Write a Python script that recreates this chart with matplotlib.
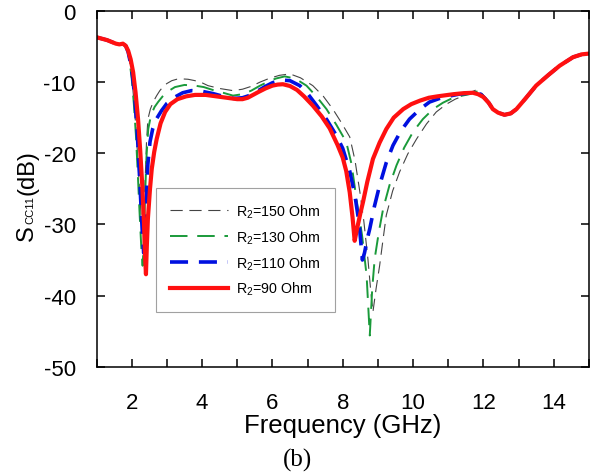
import matplotlib
matplotlib.use('Agg')
import matplotlib.pyplot as plt

plt.rcParams['font.family'] = ['Liberation Sans', 'DejaVu Sans']
plt.rcParams['mathtext.fontset'] = 'custom'
plt.rcParams['mathtext.rm'] = 'Liberation Sans'
plt.rcParams['axes.unicode_minus'] = False

# (frequency GHz, S_CC11 dB)
pts_150 = [(1.0, -3.7), (1.15, -3.9), (1.3, -4.1), (1.45, -4.4), (1.55, -4.6), (1.65, -4.7), (1.75, -4.6),
           (1.83, -4.9), (1.9, -5.9), (1.95, -7.4), (2.0, -9.3), (2.06, -12.5), (2.12, -16.5), (2.17, -20.5),
           (2.22, -25.0), (2.27, -29.0), (2.31, -31.5), (2.34, -30.0), (2.38, -24.0), (2.42, -18.5), (2.46, -15.2),
           (2.53, -13.8), (2.62, -12.7), (2.71, -11.9), (2.8, -11.2), (2.9, -10.6), (3.0, -10.2), (3.14, -9.8),
           (3.28, -9.6), (3.42, -9.55), (3.6, -9.6), (3.8, -9.8), (4.0, -10.1), (4.17, -10.5), (4.5, -10.9),
           (4.88, -11.2), (5.15, -11.0), (5.4, -10.6), (5.65, -10.0), (5.9, -9.5), (6.2, -9.05), (6.5, -8.85),
           (6.8, -9.4), (7.15, -10.5), (7.45, -12.0), (7.72, -13.8), (7.95, -15.6), (8.2, -17.7), (8.35, -21.0),
           (8.49, -25.5), (8.6, -29.5), (8.72, -35.0), (8.8, -39.5), (8.86, -42.3), (8.95, -39.0), (9.05, -35.8),
           (9.15, -32.0), (9.24, -28.7), (9.42, -25.3), (9.62, -22.6), (9.85, -20.1), (10.1, -18.0), (10.38, -15.9),
           (10.66, -14.2), (10.95, -13.1), (11.2, -12.4), (11.45, -11.9), (11.65, -11.4), (11.8, -11.1),
           (11.9, -11.3), (12.0, -11.8), (12.1, -12.6), (12.27, -13.8), (12.42, -14.3), (12.6, -14.6),
           (12.78, -14.4), (12.94, -13.8), (13.2, -12.3), (13.5, -10.5), (13.85, -9.0), (14.17, -7.7),
           (14.55, -6.5), (14.8, -6.1), (15.0, -6.0)]

pts_130 = [(1.0, -3.7), (1.15, -3.9), (1.3, -4.1), (1.45, -4.4), (1.55, -4.6), (1.65, -4.7), (1.75, -4.6),
           (1.83, -4.9), (1.9, -5.9), (1.95, -7.5), (2.0, -9.5), (2.06, -13.0), (2.12, -17.5), (2.17, -22.5),
           (2.22, -28.0), (2.27, -33.0), (2.31, -35.8), (2.34, -33.0), (2.38, -26.0), (2.42, -20.5), (2.47, -16.6),
           (2.55, -14.6), (2.65, -13.5), (2.75, -12.8), (2.88, -12.0), (3.0, -11.4), (3.23, -10.7), (3.5, -10.4),
           (3.8, -10.5), (4.05, -10.7), (4.3, -11.1), (4.6, -11.5), (4.88, -11.9), (5.15, -11.7), (5.4, -11.2),
           (5.65, -10.5), (5.9, -9.9), (6.1, -9.5), (6.35, -9.2), (6.65, -9.5), (6.97, -10.5), (7.25, -12.0),
           (7.54, -13.8), (7.82, -16.0), (8.1, -18.4), (8.25, -21.5), (8.39, -26.4), (8.55, -31.5), (8.68, -37.2),
           (8.77, -45.6), (8.84, -39.0), (8.91, -34.8), (9.03, -31.0), (9.15, -27.8), (9.33, -24.5), (9.53, -21.7),
           (9.75, -19.2), (10.0, -17.0), (10.28, -15.2), (10.57, -13.8), (10.85, -12.9), (11.1, -12.3),
           (11.4, -11.9), (11.6, -11.7), (11.75, -11.4), (11.85, -11.3), (11.95, -11.6), (12.05, -12.2),
           (12.15, -12.9), (12.27, -13.8), (12.42, -14.3), (12.6, -14.6), (12.78, -14.4), (12.94, -13.8),
           (13.2, -12.3), (13.5, -10.5), (13.85, -9.0), (14.17, -7.7), (14.55, -6.5), (14.8, -6.1), (15.0, -6.0)]

pts_110 = [(1.0, -3.7), (1.15, -3.9), (1.3, -4.1), (1.45, -4.4), (1.55, -4.6), (1.65, -4.7), (1.75, -4.6),
           (1.83, -4.9), (1.9, -5.8), (1.96, -7.2), (2.02, -9.0), (2.09, -12.3), (2.15, -16.5), (2.2, -21.0),
           (2.25, -26.0), (2.3, -31.0), (2.34, -34.0), (2.37, -33.0), (2.41, -27.0), (2.46, -21.5), (2.52, -18.4),
           (2.6, -16.5), (2.7, -15.2), (2.85, -14.0), (3.0, -13.0), (3.23, -12.1), (3.45, -11.5), (3.7, -11.2),
           (4.0, -11.3), (4.3, -11.6), (4.6, -12.0), (4.9, -12.3), (5.15, -12.2), (5.4, -11.8), (5.6, -11.2),
           (5.8, -10.6), (6.0, -10.1), (6.25, -9.7), (6.5, -9.8), (6.78, -10.5), (7.0, -11.6), (7.26, -13.3),
           (7.55, -15.3), (7.82, -17.5), (8.0, -19.3), (8.2, -22.5), (8.35, -26.0), (8.47, -30.0), (8.56, -35.0),
           (8.62, -34.0), (8.7, -32.0), (8.77, -30.6), (8.9, -27.5), (9.05, -24.5), (9.24, -21.3), (9.43, -18.9),
           (9.65, -16.9), (9.9, -15.2), (10.2, -13.8), (10.47, -12.8), (10.75, -12.3), (11.0, -12.0),
           (11.3, -11.7), (11.6, -11.55), (11.8, -11.5), (11.92, -11.7), (12.05, -12.3), (12.15, -12.9),
           (12.27, -13.8), (12.42, -14.3), (12.6, -14.6), (12.78, -14.4), (12.94, -13.8), (13.2, -12.3),
           (13.5, -10.5), (13.85, -9.0), (14.17, -7.7), (14.55, -6.5), (14.8, -6.1), (15.0, -6.0)]

pts_90 = [(1.0, -3.7), (1.15, -3.9), (1.3, -4.1), (1.45, -4.4), (1.55, -4.6), (1.65, -4.7), (1.75, -4.6),
          (1.83, -4.9), (1.9, -5.6), (1.97, -6.8), (2.04, -8.6), (2.11, -11.5), (2.18, -15.2), (2.24, -19.5),
          (2.3, -24.5), (2.35, -30.0), (2.38, -34.5), (2.405, -37.0), (2.43, -33.0), (2.46, -29.2), (2.52, -25.0),
          (2.57, -22.2), (2.64, -19.8), (2.71, -18.0), (2.82, -15.8), (2.95, -14.2), (3.1, -13.1), (3.3, -12.4),
          (3.55, -12.0), (3.8, -11.8), (4.1, -11.8), (4.4, -12.0), (4.7, -12.2), (5.0, -12.4), (5.15, -12.4),
          (5.3, -12.2), (5.45, -11.8), (5.6, -11.4), (5.8, -10.9), (6.0, -10.5), (6.15, -10.35), (6.3, -10.3),
          (6.5, -10.55), (6.7, -11.1), (6.9, -12.0), (7.15, -13.3), (7.4, -14.8), (7.63, -16.5), (7.85, -18.8),
          (8.0, -20.6), (8.1, -22.5), (8.2, -25.5), (8.28, -29.0), (8.34, -32.3), (8.4, -30.8), (8.5, -28.5),
          (8.58, -26.8), (8.7, -24.0), (8.86, -20.8), (9.05, -18.5), (9.24, -16.6), (9.45, -15.0), (9.72, -13.8),
          (9.95, -13.1), (10.2, -12.6), (10.45, -12.2), (10.7, -12.0), (11.15, -11.7), (11.45, -11.55),
          (11.7, -11.5), (11.85, -11.7), (12.0, -12.1), (12.15, -12.9), (12.27, -13.8), (12.42, -14.3),
          (12.6, -14.6), (12.78, -14.4), (12.94, -13.8), (13.2, -12.3), (13.5, -10.5), (13.85, -9.0),
          (14.17, -7.7), (14.55, -6.5), (14.8, -6.1), (15.0, -6.0)]

labels = [r'R$_{\mathregular{2}}$=150 Ohm', r'R$_{\mathregular{2}}$=130 Ohm',
          r'R$_{\mathregular{2}}$=110 Ohm', r'R$_{\mathregular{2}}$=90 Ohm']
xticks = list(range(1, 16))
xtick_labels = [str(v) if v % 2 == 0 else '' for v in xticks]
yticks = [0, -10, -20, -30, -40, -50]

fig = plt.figure(figsize=(5.96, 4.77), dpi=100)
ax = fig.add_axes([0.162, 0.229, 0.826, 0.746])

f, s = zip(*pts_150)
ax.plot(f, s, color='#444444', lw=0.8, dashes=(11, 6), label=labels[0])
f, s = zip(*pts_130)
ax.plot(f, s, color='#1a9a3a', lw=1.4, dashes=(9, 5), label=labels[1])
f, s = zip(*pts_110)
ax.plot(f, s, color='#0010e0', lw=2.6, dashes=(5, 3), label=labels[2])
f, s = zip(*pts_90)
ax.plot(f, s, color='#ff1010', lw=3.0, label=labels[3])

ax.set_xlim(1, 15)
ax.set_ylim(-50, 0)
ax.set_xticks(xticks)
ax.set_xticklabels(xtick_labels)
ax.set_yticks(yticks)
ax.tick_params(direction='in', length=6, width=1.1, top=True, right=True, labelsize=16)
ax.tick_params(axis='x', pad=18)
ax.tick_params(axis='y', pad=15)
for sp in ax.spines.values():
    sp.set_linewidth(1.1)

ax.set_xlabel('Frequency (GHz)', fontsize=18.5, labelpad=0)

# y label pieces: big S, small subscript CC11, big (dB)
W, H = 596, 477
fig.text(33 / W, 1 - 241 / H, 'S', fontsize=17, rotation=90, rotation_mode='anchor',
         ha='left', va='baseline')
fig.text(33 / W, 1 - 224 / H, 'CC11', fontsize=8, rotation=90, rotation_mode='anchor',
         ha='left', va='baseline')
fig.text(33 / W, 1 - 195 / H, '(dB)', fontsize=17, rotation=90, rotation_mode='anchor',
         ha='left', va='baseline')

leg = ax.legend(loc='lower left', bbox_to_anchor=(0.1208, 0.1545), borderaxespad=0, fontsize=10.3,
                frameon=True, fancybox=False, shadow=False, edgecolor='#8a8a8a', handlelength=4.0,
                borderpad=1.0, labelspacing=0.6, handletextpad=0.6)
leg.get_frame().set_linewidth(0.8)

fig.text(298 / W, 1 - 460 / H, '(b)', fontsize=18, family='Liberation Serif',
         ha='center', va='center')

fig.savefig('out.png', dpi=100)
